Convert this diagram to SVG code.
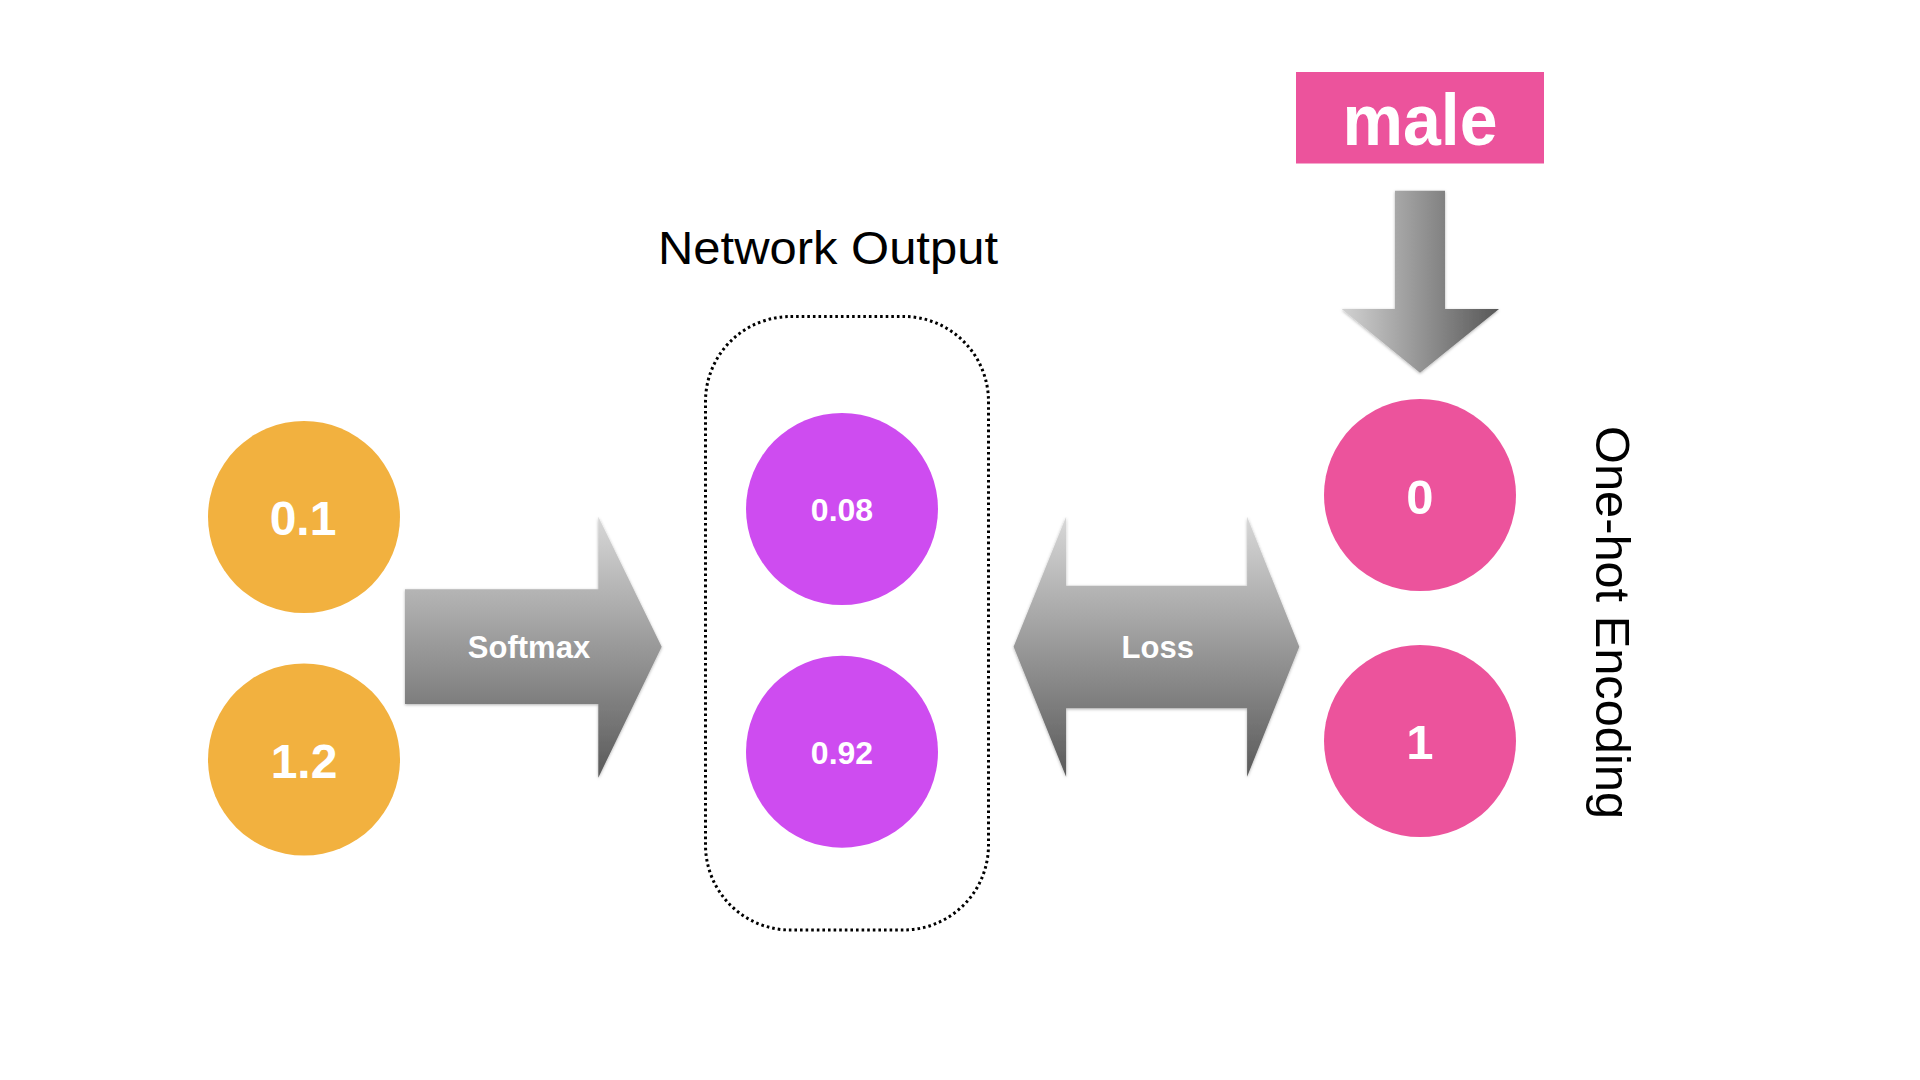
<svg xmlns="http://www.w3.org/2000/svg" width="1920" height="1080" viewBox="0 0 1920 1080">
  <defs>
    <linearGradient id="gv" x1="0" y1="0" x2="0" y2="1">
      <stop offset="0" stop-color="#d8d8d8"/>
      <stop offset="1" stop-color="#5a5a5a"/>
    </linearGradient>
    <linearGradient id="gh" x1="0" y1="0" x2="1" y2="0">
      <stop offset="0" stop-color="#d2d2d2"/>
      <stop offset="1" stop-color="#575757"/>
    </linearGradient>
    <filter id="sh" x="-10%" y="-10%" width="120%" height="120%">
      <feDropShadow dx="0" dy="1" stdDeviation="1.5" flood-color="#000" flood-opacity="0.3"/>
    </filter>
    <style>
      .orange { fill: #F2B13F; }
      .purple { fill: #CE4CF0; }
      .pink { fill: #EC539C; }
      .val { font-family: "Liberation Sans", Arial, sans-serif; font-weight: bold; fill: #ffffff; text-anchor: middle; }
      .lbl { font-family: "Liberation Sans", Arial, sans-serif; fill: #000000; }
    </style>
  </defs>
  <rect width="1920" height="1080" fill="#ffffff"/>

  <g id="title-network-output">
    <text class="lbl" x="828" y="264" font-size="47" text-anchor="middle" textLength="340" lengthAdjust="spacingAndGlyphs">Network Output</text>
  </g>

  <g id="network-output-group">
    <rect x="705.5" y="316.5" width="283" height="613.5" rx="85" ry="85" fill="none" stroke="#000" stroke-width="3" stroke-dasharray="2.6 3"/>
  </g>

  <g id="node-logit-0">
    <circle class="orange" cx="304" cy="517" r="96"/>
    <text class="val" x="303" y="535" font-size="48">0.1</text>
  </g>
  <g id="node-logit-1">
    <circle class="orange" cx="304" cy="759.5" r="96"/>
    <text class="val" x="304" y="778" font-size="48">1.2</text>
  </g>

  <g id="node-prob-0">
    <circle class="purple" cx="842" cy="509" r="96"/>
    <text class="val" x="842" y="520.5" font-size="32">0.08</text>
  </g>
  <g id="node-prob-1">
    <circle class="purple" cx="842" cy="751.7" r="96"/>
    <text class="val" x="842" y="764" font-size="32">0.92</text>
  </g>

  <g id="node-onehot-0">
    <circle class="pink" cx="1420" cy="495" r="96"/>
    <text class="val" x="1420" y="513.5" font-size="49">0</text>
  </g>
  <g id="node-onehot-1">
    <circle class="pink" cx="1420" cy="741" r="96"/>
    <text class="val" x="1420" y="759" font-size="49">1</text>
  </g>

  <g id="node-male">
    <rect class="pink" x="1296" y="72" width="248" height="91.5"/>
    <text class="val" x="1420" y="145" font-size="73" textLength="155" lengthAdjust="spacingAndGlyphs">male</text>
  </g>

  <g id="label-onehot-encoding">
    <text class="lbl" font-size="48.5" transform="translate(1596,426) rotate(90)" x="0" y="0" textLength="393" lengthAdjust="spacingAndGlyphs">One-hot Encoding</text>
  </g>

  <g id="connectors">
    <g id="arrow-softmax">
      <path d="M405,589.3 L598.3,589.3 L598.3,516.7 L661.7,646.7 L598.3,777.7 L598.3,704 L405,704 Z" fill="url(#gv)" filter="url(#sh)"/>
      <text class="val" x="529" y="658.3" font-size="31">Softmax</text>
    </g>
    <g id="arrow-loss">
      <path d="M1013.6,646.7 L1066.1,516.7 L1066.1,585.7 L1247.1,585.7 L1247.1,516.7 L1299.3,646.7 L1247.1,776.7 L1247.1,708.3 L1066.1,708.3 L1066.1,776.7 Z" fill="url(#gv)" filter="url(#sh)"/>
      <text class="val" x="1157.7" y="657.7" font-size="31">Loss</text>
    </g>
    <g id="arrow-male-down">
      <path d="M1395,190.7 L1445,190.7 L1445,309 L1499,309 L1420,372.7 L1341.7,309 L1395,309 Z" fill="url(#gh)" filter="url(#sh)"/>
    </g>
  </g>
</svg>
